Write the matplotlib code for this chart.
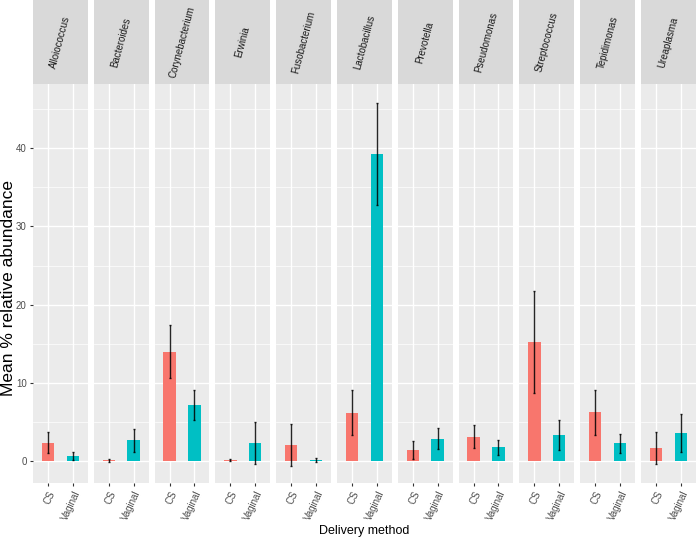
"""Faceted bar chart: mean % relative abundance by delivery method per genus."""

import matplotlib

matplotlib.use("Agg")
import matplotlib.pyplot as plt
import numpy as np

plt.rcParams["font.family"] = ["Liberation Sans", "DejaVu Sans"]

GENERA = [
    "Alloiococcus", "Bacteroides", "Corynebacterium", "Erwinia", "Fusobacterium",
    "Lactobacillus", "Prevotella", "Pseudomonas", "Streptococcus", "Tepidimonas",
    "Ureaplasma",
]
METHODS = ["CS", "Vaginal"]
CS_MEAN = [2.4, 0.15, 14.0, 0.15, 2.1, 6.2, 1.45, 3.15, 15.2, 6.25, 1.7]
CS_SE = [1.4, 0.2, 3.4, 0.1, 2.65, 2.9, 1.2, 1.45, 6.5, 2.85, 2.0]
VAG_MEAN = [0.68, 2.7, 7.2, 2.35, 0.2, 39.3, 2.9, 1.8, 3.35, 2.3, 3.6]
VAG_SE = [0.55, 1.45, 1.9, 2.65, 0.25, 6.5, 1.3, 0.95, 1.95, 1.2, 2.45]

COLORS = ["#F8766D", "#00BFC4"]
W, H = 696, 539
LEFT, PANEL_W, GAP = 33, 54.8, 6.0
PANEL_TOP, PANEL_BOTTOM = 84, 483

fig = plt.figure(figsize=(W / 100, H / 100), dpi=100)
fig.patch.set_facecolor("white")

for i, genus in enumerate(GENERA):
    x0 = LEFT + i * (PANEL_W + GAP)
    ax = fig.add_axes([x0 / W, 1 - PANEL_BOTTOM / H, PANEL_W / W, (PANEL_BOTTOM - PANEL_TOP) / H])
    ax.set_facecolor("#EBEBEB")
    for side in ax.spines.values():
        side.set_visible(False)
    means = [CS_MEAN[i], VAG_MEAN[i]]
    ses = [CS_SE[i], VAG_SE[i]]
    xs = np.arange(1, 3)
    ax.bar(xs, means, width=0.5, color=COLORS, zorder=2)
    ax.errorbar(xs, means, yerr=ses, fmt="none", ecolor="black", elinewidth=1.0,
                capsize=1.0, capthick=1.0, alpha=0.85, zorder=3)
    ax.set_xlim(0.4, 2.6)
    ax.set_ylim(-2.77, 48.2)
    ax.set_yticks([0, 10, 20, 30, 40])
    ax.set_yticks([5, 15, 25, 35, 45], minor=True)
    ax.set_xticks(xs)
    ax.set_xticklabels(METHODS, rotation=65, ha="right", rotation_mode="anchor",
                       fontsize=7, color="#4D4D4D")
    ax.grid(True, which="major", color="white", linewidth=1.0, zorder=0)
    ax.grid(True, which="minor", axis="y", color="white", linewidth=0.5, zorder=0)
    ax.set_axisbelow(True)
    ax.tick_params(axis="both", which="major", length=2.5, color="#333333", width=0.8, pad=2)
    ax.tick_params(axis="y", which="minor", length=0)
    if i == 0:
        ax.set_yticklabels(["0", "10", "20", "30", "40"], fontsize=7, color="#4D4D4D")
    else:
        ax.tick_params(axis="y", which="major", length=0, labelleft=False)

    strip = fig.add_axes([x0 / W, 1 - PANEL_TOP / H, PANEL_W / W, PANEL_TOP / H])
    strip.set_facecolor("#D9D9D9")
    strip.set_xticks([])
    strip.set_yticks([])
    for side in strip.spines.values():
        side.set_visible(False)
    strip.text(0.5, 0.5, genus, rotation=75, ha="center", va="center",
               fontsize=7, color="#1A1A1A", transform=strip.transAxes)

fig.text((LEFT + 663 / 2) / W, 1 - 531 / H, "Delivery method", ha="center", va="center",
         fontsize=9)
fig.text(8.5 / W, 1 - 288 / H, "Mean % relative abundance",
         rotation=90, ha="center", va="center", fontsize=12.5)

fig.savefig("out.png", dpi=100)
